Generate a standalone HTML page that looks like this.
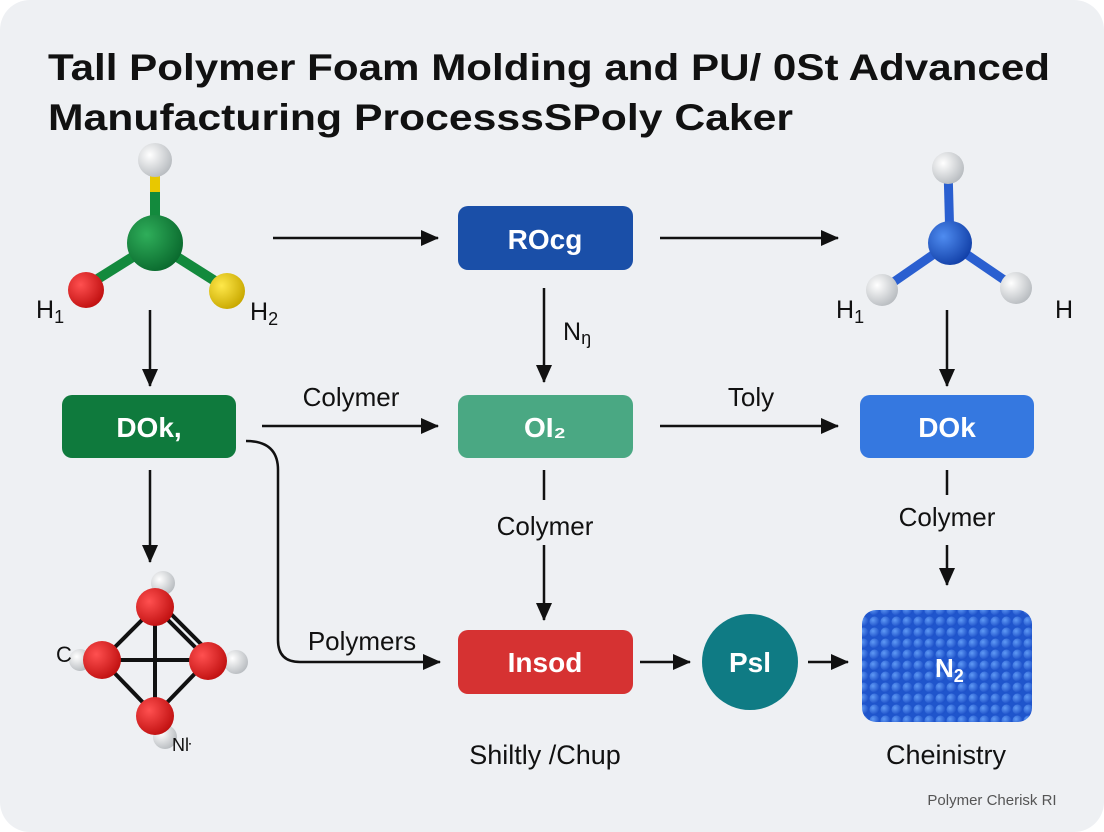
<!DOCTYPE html>
<html><head><meta charset="utf-8"><style>
html,body{margin:0;padding:0;background:#fff;}
svg{display:block;font-family:"Liberation Sans",sans-serif;}
</style></head><body>
<svg width="1104" height="832" viewBox="0 0 1104 832" xmlns="http://www.w3.org/2000/svg">
<defs>
<radialGradient id="gW" cx="35%" cy="35%" r="70%"><stop offset="0" stop-color="#fff"/><stop offset="1" stop-color="#b8bcc0"/></radialGradient>
<radialGradient id="gG" cx="35%" cy="35%" r="70%"><stop offset="0" stop-color="#2fae5a"/><stop offset="1" stop-color="#0a6a2e"/></radialGradient>
<radialGradient id="gR" cx="35%" cy="35%" r="70%"><stop offset="0" stop-color="#ff5050"/><stop offset="1" stop-color="#c01010"/></radialGradient>
<radialGradient id="gY" cx="35%" cy="35%" r="70%"><stop offset="0" stop-color="#ffe84a"/><stop offset="1" stop-color="#c8a800"/></radialGradient>
<radialGradient id="gB" cx="35%" cy="35%" r="70%"><stop offset="0" stop-color="#4f8cf0"/><stop offset="1" stop-color="#1240a8"/></radialGradient>
<radialGradient id="gS" cx="35%" cy="35%" r="70%"><stop offset="0" stop-color="#5f9af5"/><stop offset="1" stop-color="#1c4fc8"/></radialGradient>
<pattern id="sp" width="11" height="11" patternUnits="userSpaceOnUse"><rect width="11" height="11" fill="#1f55cc"/><circle cx="5.5" cy="5.5" r="5" fill="url(#gS)"/></pattern>
<marker id="ah2" markerWidth="18" markerHeight="16" refX="17" refY="8" orient="auto" markerUnits="userSpaceOnUse"><path d="M0,0 L18,8 L0,16 z" fill="#111"/></marker>
</defs>
<rect x="0" y="0" width="1104" height="832" rx="30" fill="#eef0f3"/>
<text x="48" y="80" font-size="37" font-weight="bold" fill="#111" textLength="1002" lengthAdjust="spacingAndGlyphs">Tall Polymer Foam Molding and PU/ 0St Advanced</text>
<text x="48" y="130" font-size="37" font-weight="bold" fill="#111" textLength="745" lengthAdjust="spacingAndGlyphs">Manufacturing  ProcesssSPoly Caker</text>

<!-- left molecule -->
<line x1="155" y1="160" x2="155" y2="240" stroke="#138a3d" stroke-width="10"/>
<line x1="155" y1="175" x2="155" y2="192" stroke="#e8c800" stroke-width="10"/>
<line x1="155" y1="243" x2="88" y2="285" stroke="#138a3d" stroke-width="10"/>
<line x1="155" y1="243" x2="226" y2="288" stroke="#138a3d" stroke-width="10"/>
<circle cx="155" cy="160" r="17" fill="url(#gW)"/>
<circle cx="155" cy="243" r="28" fill="url(#gG)"/>
<circle cx="86" cy="290" r="18" fill="url(#gR)"/>
<circle cx="227" cy="291" r="18" fill="url(#gY)"/>
<text x="36" y="318" font-size="25" fill="#111">H<tspan font-size="18" dy="5">1</tspan></text>
<text x="250" y="320" font-size="25" fill="#111">H<tspan font-size="18" dy="5">2</tspan></text>

<!-- right molecule -->
<line x1="950" y1="243" x2="948" y2="168" stroke="#2a5fd0" stroke-width="9"/>
<line x1="950" y1="243" x2="882" y2="290" stroke="#2a5fd0" stroke-width="9"/>
<line x1="950" y1="243" x2="1016" y2="288" stroke="#2a5fd0" stroke-width="9"/>
<circle cx="948" cy="168" r="16" fill="url(#gW)"/>
<circle cx="882" cy="290" r="16" fill="url(#gW)"/>
<circle cx="1016" cy="288" r="16" fill="url(#gW)"/>
<circle cx="950" cy="243" r="22" fill="url(#gB)"/>
<text x="836" y="318" font-size="25" fill="#111">H<tspan font-size="18" dy="5">1</tspan></text>
<text x="1055" y="318" font-size="25" fill="#111">H</text>

<!-- boxes -->
<rect x="458" y="206" width="175" height="64" rx="10" fill="#1a4fa8"/>
<text x="545" y="249" font-size="28" font-weight="bold" fill="#fff" text-anchor="middle">ROcg</text>
<rect x="62" y="395" width="174" height="63" rx="10" fill="#0f7a3d"/>
<text x="149" y="437" font-size="28" font-weight="bold" fill="#fff" text-anchor="middle">DOk,</text>
<rect x="458" y="395" width="175" height="63" rx="10" fill="#4aa883"/>
<text x="545" y="437" font-size="28" font-weight="bold" fill="#fff" text-anchor="middle">OI₂</text>
<rect x="860" y="395" width="174" height="63" rx="10" fill="#3578e0"/>
<text x="947" y="437" font-size="28" font-weight="bold" fill="#fff" text-anchor="middle">DOk</text>
<rect x="458" y="630" width="175" height="64" rx="10" fill="#d63232"/>
<text x="545" y="672" font-size="28" font-weight="bold" fill="#fff" text-anchor="middle">Insod</text>
<circle cx="750" cy="662" r="48" fill="#0f7b84"/>
<text x="750" y="672" font-size="28" font-weight="bold" fill="#fff" text-anchor="middle">Psl</text>

<!-- cube -->
<rect x="862" y="610" width="170" height="112" rx="14" fill="url(#sp)"/>
<text x="935" y="677" font-size="26" font-weight="bold" fill="#fff">N<tspan font-size="18" dy="5">2</tspan></text>

<!-- bottom-left molecule -->
<g stroke="#111" stroke-width="4">
<line x1="155" y1="607" x2="102" y2="660"/><line x1="155" y1="607" x2="208" y2="660"/>
<line x1="160" y1="603" x2="213" y2="656"/>
<line x1="102" y1="660" x2="155" y2="715"/><line x1="208" y1="660" x2="155" y2="715"/>
<line x1="102" y1="660" x2="208" y2="660"/><line x1="155" y1="607" x2="155" y2="715"/>
</g>
<circle cx="163" cy="583" r="12" fill="url(#gW)"/>
<circle cx="80" cy="660" r="11" fill="url(#gW)"/>
<circle cx="236" cy="662" r="12" fill="url(#gW)"/>
<circle cx="165" cy="737" r="12" fill="url(#gW)"/>
<circle cx="155" cy="607" r="19" fill="url(#gR)"/>
<circle cx="102" cy="660" r="19" fill="url(#gR)"/>
<circle cx="208" cy="661" r="19" fill="url(#gR)"/>
<circle cx="155" cy="716" r="19" fill="url(#gR)"/>
<text x="56" y="662" font-size="22" fill="#111">C</text>
<text x="172" y="751" font-size="18" fill="#111">Nŀ</text>

<!-- arrows -->
<g stroke="#111" stroke-width="2.5" fill="none">
<line x1="273" y1="238" x2="438" y2="238" marker-end="url(#ah2)"/>
<line x1="660" y1="238" x2="838" y2="238" marker-end="url(#ah2)"/>
<line x1="150" y1="310" x2="150" y2="386" marker-end="url(#ah2)"/>
<line x1="544" y1="288" x2="544" y2="382" marker-end="url(#ah2)"/>
<line x1="947" y1="310" x2="947" y2="386" marker-end="url(#ah2)"/>
<line x1="262" y1="426" x2="438" y2="426" marker-end="url(#ah2)"/>
<line x1="660" y1="426" x2="838" y2="426" marker-end="url(#ah2)"/>
<line x1="150" y1="470" x2="150" y2="562" marker-end="url(#ah2)"/>
<line x1="544" y1="470" x2="544" y2="500"/>
<line x1="544" y1="545" x2="544" y2="620" marker-end="url(#ah2)"/>
<line x1="947" y1="470" x2="947" y2="495"/>
<line x1="947" y1="545" x2="947" y2="585" marker-end="url(#ah2)"/>
<path d="M246,441 Q278,441 278,470 L278,640 Q278,662 300,662 L440,662" marker-end="url(#ah2)"/>
<line x1="640" y1="662" x2="690" y2="662" marker-end="url(#ah2)"/>
<line x1="808" y1="662" x2="848" y2="662" marker-end="url(#ah2)"/>
</g>

<text x="563" y="340" font-size="25" fill="#111">N<tspan font-size="18" dy="4">ŋ</tspan></text>
<text x="351" y="406" font-size="26" fill="#111" text-anchor="middle">Colymer</text>
<text x="751" y="406" font-size="26" fill="#111" text-anchor="middle">Toly</text>
<text x="545" y="535" font-size="26" fill="#111" text-anchor="middle">Colymer</text>
<text x="947" y="526" font-size="26" fill="#111" text-anchor="middle">Colymer</text>
<text x="362" y="650" font-size="26" fill="#111" text-anchor="middle">Polymers</text>
<text x="545" y="764" font-size="27" fill="#111" text-anchor="middle">Shiltly /Chup</text>
<text x="946" y="764" font-size="27" fill="#111" text-anchor="middle">Cheinistry</text>
<text x="992" y="805" font-size="15" fill="#555" text-anchor="middle">Polymer Cherisk RI</text>
</svg>
</body></html>
